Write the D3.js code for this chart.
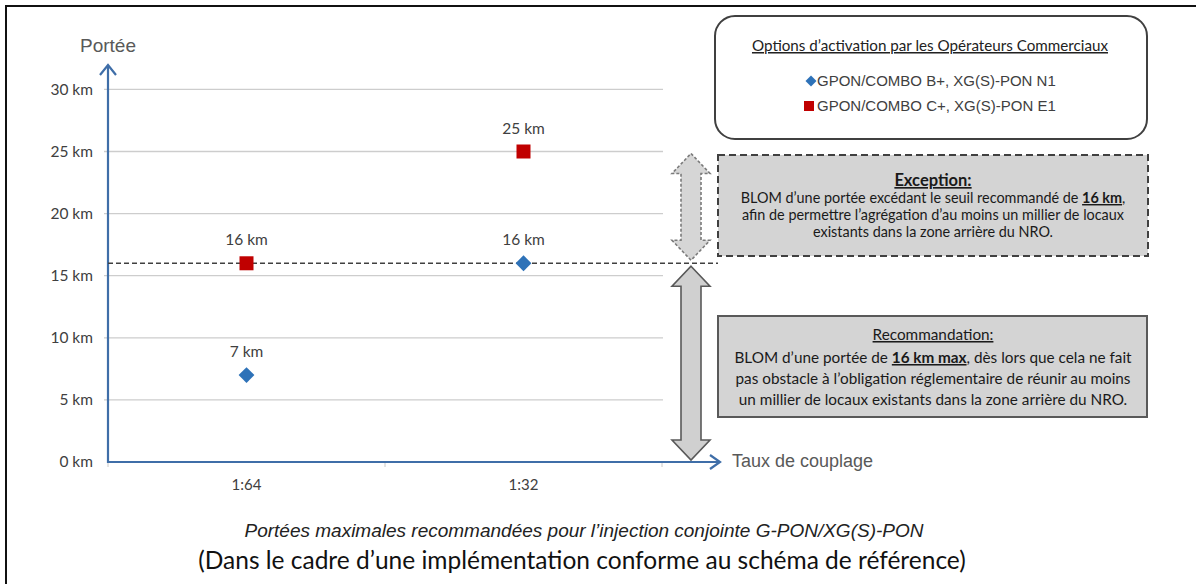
<!DOCTYPE html>
<html><head><meta charset="utf-8">
<script src="https://cdn.jsdelivr.net/npm/d3@7"></script>
<style>
html,body{margin:0;padding:0;background:#fff;}
svg{display:block;}
</style></head>
<body>
<svg id="c" width="1196" height="584"></svg>
<script>
const categories = ["1:64", "1:32"];
const seriesNames = ["GPON/COMBO B+, XG(S)-PON N1", "GPON/COMBO C+, XG(S)-PON E1"];
const valuesN1 = [7, 16];
const valuesE1 = [16, 25];
const yTickValues = [0, 5, 10, 15, 20, 25, 30];
const threshold = 16;
const exceptionMax = 25;

const svg = d3.select("#c");
const calibri = "Lato, 'Open Sans', sans-serif";
const arial = "'Liberation Sans', Arial, sans-serif";

svg.append("rect").attr("width",1196).attr("height",584).attr("fill","#fff");
// page frame
svg.append("path").attr("d","M6,584 V6 H1196").attr("fill","none").attr("stroke","#111").attr("stroke-width",2);

const x = d3.scaleBand().domain(categories).range([108, 662]).padding(0);
const y = d3.scaleLinear().domain([0, 30]).range([462, 89.4]);

// gridlines
svg.append("g").selectAll("line").data(yTickValues.filter(d=>d>0)).join("line")
  .attr("x1",104).attr("x2",663).attr("y1",d=>y(d)).attr("y2",d=>y(d))
  .attr("stroke","#cdcdcd").attr("stroke-width",1.3);

// y tick labels
const yAxis = d3.axisLeft(y).tickValues(yTickValues).tickFormat(d=>d+" km").tickSize(0).tickPadding(15);
const gy = svg.append("g").attr("transform","translate(108,0)").call(yAxis);
gy.select(".domain").remove();
gy.selectAll("text").attr("font-family",calibri).attr("font-size",15.5).attr("fill","#404040");

// x axis ticks
const xTickPos = [108, 385, 662];
svg.append("g").selectAll("line").data(xTickPos).join("line")
  .attr("x1",d=>d).attr("x2",d=>d).attr("y1",462).attr("y2",467)
  .attr("stroke","#c8c8c8").attr("stroke-width",1);
const xAxis = d3.axisBottom(x).tickSize(0).tickPadding(17);
const gx = svg.append("g").attr("transform","translate(0,462)").call(xAxis);
gx.select(".domain").remove();
gx.selectAll("text").attr("font-family",calibri).attr("font-size",15).attr("fill","#404040");

// axes lines with arrows
const axisColor = "#3f6ea8";
svg.append("line").attr("x1",108).attr("y1",463).attr("x2",108).attr("y2",66).attr("stroke",axisColor).attr("stroke-width",2.2);
svg.append("path").attr("d","M100,75 L108,65 L116,75").attr("fill","none").attr("stroke",axisColor).attr("stroke-width",2.2);
svg.append("line").attr("x1",107).attr("y1",462).attr("x2",718).attr("y2",462).attr("stroke",axisColor).attr("stroke-width",2.2);
svg.append("path").attr("d","M710,455 L720,462 L710,469").attr("fill","none").attr("stroke",axisColor).attr("stroke-width",2.2);

svg.append("text").attr("x",108).attr("y",52).attr("text-anchor","middle")
  .attr("font-family",arial).attr("font-size",19).attr("fill","#595959").text("Portée");
svg.append("text").attr("x",732).attr("y",467)
  .attr("font-family",arial).attr("font-size",18).attr("fill","#595959").text("Taux de couplage");

// threshold dashed line
svg.append("line").attr("x1",108).attr("x2",718).attr("y1",y(threshold)).attr("y2",y(threshold))
  .attr("stroke","#404040").attr("stroke-width",1.5).attr("stroke-dasharray","5,3");

// double arrows
function dblArrow(cx, y1, y2){
  const hw=19, sw=10, hl=20;
  return `M${cx},${y1} L${cx+hw},${y1+hl} L${cx+sw},${y1+hl} L${cx+sw},${y2-hl} L${cx+hw},${y2-hl} L${cx},${y2} L${cx-hw},${y2-hl} L${cx-sw},${y2-hl} L${cx-sw},${y1+hl} L${cx-hw},${y1+hl} Z`;
}
svg.append("path").attr("d",dblArrow(691, y(exceptionMax)+2, y(threshold)-3))
  .attr("fill","#d6d6d6").attr("stroke","#7a7a7a").attr("stroke-width",1.6).attr("stroke-dasharray","3,2");
svg.append("path").attr("d",dblArrow(691, y(threshold)+3, y(0)-2))
  .attr("fill","#d0d0d0").attr("stroke","#595959").attr("stroke-width",1.6);

// markers
const cx = d => x(d) + x.bandwidth()/2;
svg.append("g").selectAll("path").data(categories.map((c,i)=>({c,v:valuesN1[i]}))).join("path")
  .attr("d",d3.symbol().type(d3.symbolSquare).size(125))
  .attr("transform",d=>`translate(${cx(d.c)},${y(d.v)}) rotate(45)`)
  .attr("fill","#2e72b8");
svg.append("g").selectAll("rect").data(categories.map((c,i)=>({c,v:valuesE1[i]}))).join("rect")
  .attr("x",d=>cx(d.c)-7).attr("y",d=>y(d.v)-7).attr("width",14).attr("height",14)
  .attr("fill","#c00000");
// data labels
const allPts = categories.map((c,i)=>({c,v:valuesN1[i]})).concat(categories.map((c,i)=>({c,v:valuesE1[i]})));
svg.append("g").selectAll("text").data(allPts).join("text")
  .attr("x",d=>cx(d.c)).attr("y",d=>y(d.v)-18).attr("text-anchor","middle")
  .attr("font-family",calibri).attr("font-size",15.5).attr("fill","#404040").text(d=>d.v+" km");

// legend box
svg.append("rect").attr("x",715).attr("y",16).attr("width",432).attr("height",123).attr("rx",20)
  .attr("fill","#fff").attr("stroke","#404040").attr("stroke-width",2);
svg.append("text").attr("x",930).attr("y",51).attr("text-anchor","middle")
  .attr("font-family",calibri).attr("font-size",15.2).attr("fill","#222").attr("text-decoration","underline")
  .text("Options d’activation par les Opérateurs Commerciaux");
svg.append("path").attr("d",d3.symbol().type(d3.symbolSquare).size(60)).attr("transform","translate(811,81) rotate(45)").attr("fill","#2e72b8");
svg.append("rect").attr("x",804).attr("y",101).attr("width",10).attr("height",10).attr("fill","#c00000");
svg.append("text").attr("x",817).attr("y",86).attr("font-family",arial).attr("font-size",15).attr("fill","#404040").text(seriesNames[0]);
svg.append("text").attr("x",817).attr("y",111).attr("font-family",arial).attr("font-size",15).attr("fill","#404040").text(seriesNames[1]);

// exception box
svg.append("rect").attr("x",718).attr("y",155).attr("width",430).attr("height",101)
  .attr("fill","#d4d4d4").attr("stroke","#404040").attr("stroke-width",2).attr("stroke-dasharray","7,4");
const tx = 933;
function txt(yy, size){ return svg.append("text").attr("x",tx).attr("y",yy).attr("text-anchor","middle").attr("font-family",calibri).attr("font-size",size).attr("fill","#1a1a1a"); }
txt(186,16.5).attr("font-weight","bold").attr("text-decoration","underline").text("Exception:");
let t = txt(203,14.4);
t.append("tspan").text("BLOM d’une portée excédant le seuil recommandé de ");
t.append("tspan").attr("font-weight","bold").attr("text-decoration","underline").text("16 km");
t.append("tspan").text(",");
txt(220,14.4).text("afin de permettre l’agrégation d’au moins un millier de locaux");
txt(237,14.4).text("existants dans la zone arrière du NRO.");

// recommandation box
svg.append("rect").attr("x",718).attr("y",316).attr("width",429).attr("height",101)
  .attr("fill","#d4d4d4").attr("stroke","#595959").attr("stroke-width",2);
txt(340,15.3).attr("text-decoration","underline").text("Recommandation:");
t = txt(363,15.3);
t.append("tspan").text("BLOM d’une portée de ");
t.append("tspan").attr("font-weight","bold").attr("text-decoration","underline").text("16 km max");
t.append("tspan").text(", dès lors que cela ne fait");
txt(384,15.3).text("pas obstacle à l’obligation réglementaire de réunir au moins");
txt(405,15.3).text("un millier de locaux existants dans la zone arrière du NRO.");

// captions
svg.append("text").attr("x",584).attr("y",537).attr("text-anchor","middle")
  .attr("font-family",arial).attr("font-style","italic").attr("font-size",19).attr("fill","#222")
  .text("Portées maximales recommandées pour l’injection conjointe G-PON/XG(S)-PON");
svg.append("text").attr("x",582).attr("y",569).attr("text-anchor","middle")
  .attr("font-family",calibri).attr("font-size",24.5).attr("fill","#111")
  .text("(Dans le cadre d’une implémentation conforme au schéma de référence)");
</script>
</body></html>
